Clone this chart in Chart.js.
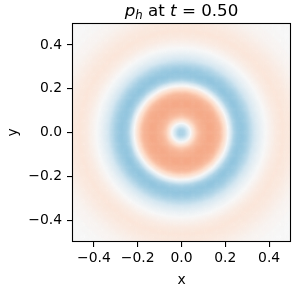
<!DOCTYPE html>
<html>
<head>
<meta charset="utf-8">
<script src="https://cdn.jsdelivr.net/npm/chart.js@4.4.1/dist/chart.umd.min.js"></script>
<style>
  html, body { margin: 0; padding: 0; background: #fff; }
</style>
</head>
<body>
<canvas id="myChart" width="299" height="290"></canvas>
<script>
// radial profile of p_h, one value per 0.01 of radius (colour scale units, -1..1)
const profileStep = 0.01;
const profile = [
  -0.33, -0.32, -0.27, -0.17, -0.04, 0.09, 0.19, 0.26, 0.31, 0.34,
  0.36, 0.37, 0.38, 0.38, 0.38, 0.37, 0.36, 0.34, 0.30, 0.23,
  0.15, 0.05, -0.08, -0.21, -0.31, -0.36, -0.39, -0.40, -0.39, -0.37,
  -0.34, -0.30, -0.26, -0.21, -0.16, -0.12, -0.08, -0.05, -0.02, 0.01,
  0.03, 0.05, 0.07, 0.09, 0.10, 0.11, 0.12, 0.12, 0.11, 0.11,
  0.10, 0.09, 0.08, 0.07, 0.06, 0.05, 0.04, 0.03, 0.03, 0.02,
  0.02, 0.01, 0.01, 0.01, 0.00, 0.00, 0.00, 0.00, 0.00, 0.00,
  0.00, 0.00
];
const gridCells = 200;
const axisMin = -0.5;
const axisMax = 0.5;
const tickValues = [-0.4, -0.2, 0.0, 0.2, 0.4];
const xLabel = 'x';
const yLabel = 'y';
const titleParts = [
  { text: 'p', italic: true },
  { text: 'h', italic: true, sub: true },
  { text: ' at ', italic: false },
  { text: 't', italic: true },
  { text: ' = 0.50', italic: false },
];
// RdBu_r
const cmap = ['#053061', '#2166ac', '#4393c3', '#92c5de', '#d1e5f0', '#f7f7f7',
              '#fddbc7', '#f4a582', '#d6604d', '#b2182b', '#67001f'];

function hexRgb(h) {
    return [parseInt(h.slice(1, 3), 16), parseInt(h.slice(3, 5), 16), parseInt(h.slice(5, 7), 16)];
}
function colorFor(v) {
    let t = (Math.max(-1, Math.min(1, v)) + 1) / 2 * (cmap.length - 1);
    let k = Math.min(Math.floor(t), cmap.length - 2);
    let f = t - k;
    let a = hexRgb(cmap[k]), b = hexRgb(cmap[k + 1]);
    let c = a.map((x, i) => Math.round(x + (b[i] - x) * f));
    return 'rgb(' + c.join(',') + ')';
}
// value at radius r, blending the two nearest profile samples
function valueAt(r) {
    let p = r / profileStep;
    let k = Math.min(Math.floor(p), profile.length - 2);
    let f = Math.min(p - k, 1);
    return profile[k] + (profile[k + 1] - profile[k]) * f;
}

const cell = (axisMax - axisMin) / gridCells;
const points = [];
const colors = [];
for (let i = 0; i < gridCells; i++) {
    for (let j = 0; j < gridCells; j++) {
        const x = axisMin + (i + 0.5) * cell;
        const y = axisMin + (j + 0.5) * cell;
        points.push({ x: x, y: y });
        colors.push(colorFor(valueAt(Math.hypot(x, y))));
    }
}

const tickFont = { family: 'DejaVu Sans', size: 13.9 };
const fmt = (v) => (v < 0 ? '\u2212' : '') + Math.abs(v).toFixed(1);

const framePlugin = {
    id: 'frame',
    afterDraw(chart) {
        const { ctx, chartArea: a } = chart;
        ctx.save();
        ctx.strokeStyle = '#000';
        ctx.lineWidth = 1.1;
        ctx.strokeRect(a.left + 0.5, a.top + 0.5, a.right - a.left - 1, a.bottom - a.top - 1);

        // title with math parts
        let w = 0;
        const measured = titleParts.map(p => {
            const size = p.sub ? 11.7 : 16.7;
            const font = (p.italic ? 'italic ' : '') + size + 'px "DejaVu Sans"';
            ctx.font = font;
            const m = ctx.measureText(p.text).width;
            w += m;
            return { p, font, m };
        });
        let x = (a.left + a.right) / 2 - w / 2;
        ctx.fillStyle = '#000';
        ctx.textBaseline = 'alphabetic';
        ctx.textAlign = 'left';
        measured.forEach(({ p, font, m }) => {
            ctx.font = font;
            ctx.fillText(p.text, x, p.sub ? 18.5 : 15.5);
            x += m;
        });
        ctx.restore();
    }
};

const config = {
    type: 'scatter',
    data: {
        datasets: [{
            data: points,
            pointStyle: 'rect',
            pointBackgroundColor: colors,
            pointBorderWidth: 0,
            pointRadius: function (c) {
                const s = c.chart.scales.x;
                const w = Math.abs(s.getPixelForValue(cell) - s.getPixelForValue(0));
                return (w + 0.5) / Math.SQRT2;
            },
        }],
    },
    options: {
        responsive: false,
        animation: false,
        devicePixelRatio: 1,
        events: [],
        layout: { padding: { top: 23, right: 8, left: 0, bottom: 0 } },
        plugins: { legend: { display: false }, tooltip: { enabled: false } },
        scales: {
            x: {
                type: 'linear',
                min: axisMin,
                max: axisMax,
                afterBuildTicks: (s) => { s.ticks = tickValues.map(v => ({ value: v })); },
                afterFit: (s) => { s.height = 48; },
                border: { display: false },
                grid: { drawOnChartArea: false, drawTicks: true, tickLength: 5, color: '#000', lineWidth: 1.1 },
                ticks: { color: '#000', font: tickFont, padding: 3, maxRotation: 0, callback: (v) => fmt(v) },
                title: { display: true, text: xLabel, color: '#000', font: tickFont, padding: { top: 0, bottom: 1 } },
            },
            y: {
                type: 'linear',
                min: axisMin,
                max: axisMax,
                afterBuildTicks: (s) => { s.ticks = tickValues.map(v => ({ value: v })); },
                afterFit: (s) => { s.width = 72; },
                border: { display: false },
                grid: { drawOnChartArea: false, drawTicks: true, tickLength: 5, color: '#000', lineWidth: 1.1 },
                ticks: { color: '#000', font: tickFont, padding: 5, callback: (v) => fmt(v) },
                title: { display: true, text: yLabel, color: '#000', font: tickFont, padding: { top: 5, bottom: 0 } },
            },
        },
    },
    plugins: [framePlugin],
};
const myChart = new Chart(document.getElementById('myChart'), config);
</script>
</body>
</html>
